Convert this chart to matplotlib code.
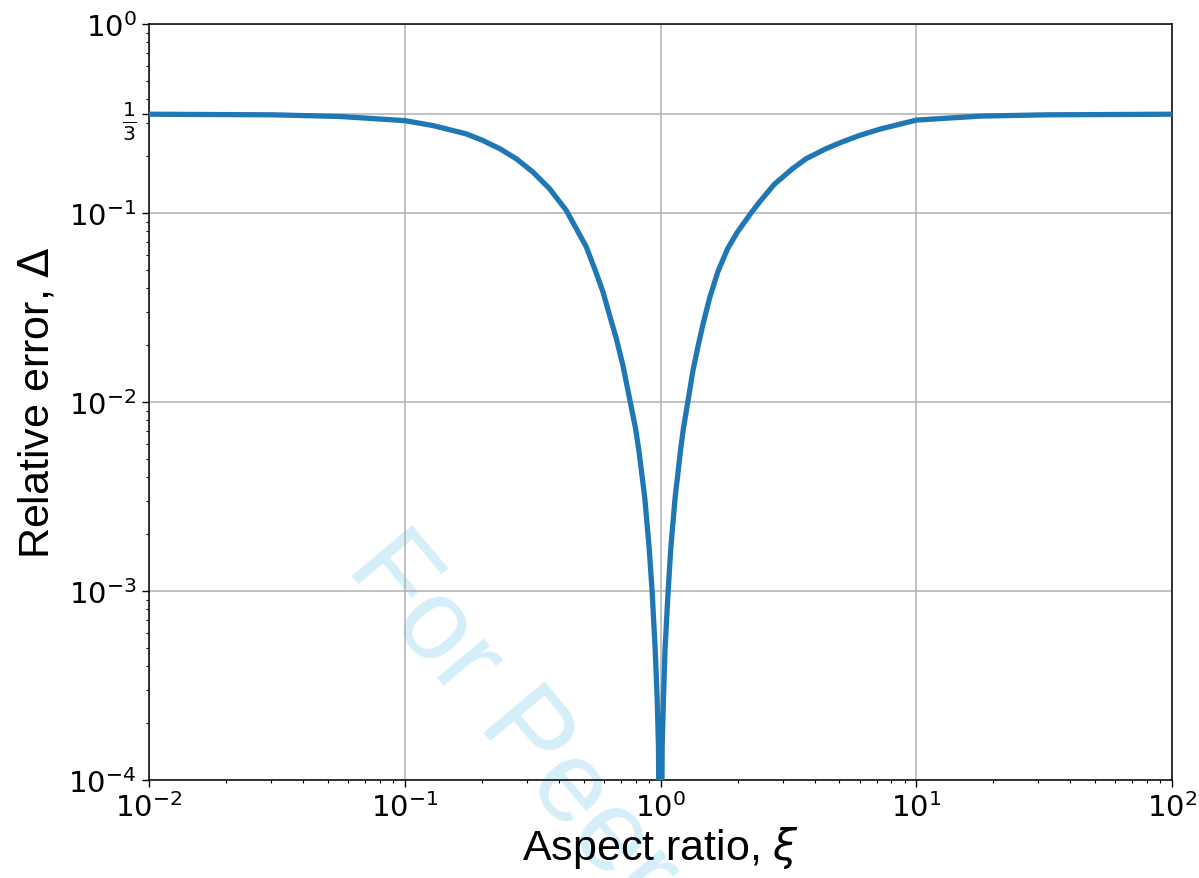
import matplotlib
matplotlib.use("Agg")
import matplotlib.pyplot as plt

# values (log-log), left and right branch of the dip
xi_left = [0.01, 0.0306, 0.0557, 0.1, 0.129, 0.174, 0.2023, 0.2148, 0.235, 0.273,
           0.317, 0.3684, 0.428, 0.4685, 0.5126, 0.5524, 0.5953, 0.632, 0.6713,
           0.7124, 0.7565, 0.7985, 0.825, 0.868, 0.9026, 0.927, 0.9526, 0.970,
           0.982, 1.0]
delta_left = [0.333, 0.3306, 0.324, 0.308, 0.290, 0.262, 0.2417, 0.232, 0.219, 0.1935,
              0.1646, 0.1343, 0.1032, 0.0826, 0.0661, 0.0508, 0.0383, 0.0288, 0.0217,
              0.01566, 0.01044, 0.00725, 0.0054, 0.0031, 0.00169, 0.001, 0.000499,
              0.000272, 0.000148, 1e-6]
xi_right = [1.0146, 1.027, 1.042, 1.071, 1.097, 1.140, 1.200, 1.229, 1.289, 1.337,
            1.399, 1.463, 1.554, 1.675, 1.83, 2.0, 2.26, 2.438, 2.788, 3.29, 3.707,
            4.44, 5.15, 5.99, 7.23, 10.0, 17.8, 32.4, 100.0]
delta_right = [0.000148, 0.000272, 0.000499, 0.001, 0.00169, 0.0031, 0.00569, 0.00725,
               0.0107, 0.0145, 0.0195, 0.0255, 0.0353, 0.0488, 0.0648, 0.0794, 0.1,
               0.1143, 0.142, 0.172, 0.1935, 0.219, 0.238, 0.257, 0.278, 0.31, 0.3254,
               0.3306, 0.333]

xi = xi_left + xi_right
delta = delta_left + delta_right

yticks = [1e-4, 1e-3, 1e-2, 1e-1, 1/3, 1.0]
ytick_labels = [r"$10^{-4}$", r"$10^{-3}$", r"$10^{-2}$", r"$10^{-1}$", r"$\frac{1}{3}$", r"$10^{0}$"]

plt.rcParams['mathtext.fontset'] = 'dejavusans'

fig = plt.figure(figsize=(11.99, 8.79), dpi=100)
fig.patch.set_facecolor("white")
ax = fig.add_axes([0.1243, 0.1115, 0.8532, 0.8601])
ax.set_facecolor("none")

ax.plot(xi, delta, color="#1f77b4", lw=3.8, solid_joinstyle="round", zorder=3)

ax.set_xscale("log")
ax.set_yscale("log")
ax.set_xlim(1e-2, 1e2)
ax.set_ylim(1e-4, 1.0)
ax.set_yticks(yticks)
ax.set_yticklabels(ytick_labels)

ax.grid(True, which="major", color="#b0b0b0", lw=1.1)
ax.tick_params(which="major", length=5, width=1.0, labelsize=21, pad=4)
ax.tick_params(which="minor", length=2.5, width=0.8)
for s in ax.spines.values():
    s.set_linewidth(1.1)

ax.set_xlabel(r"Aspect ratio, $\xi$", fontsize=31, family="Liberation Sans", labelpad=1)
ax.set_ylabel(r"Relative error, $\Delta$", fontsize=31, family="Liberation Sans", labelpad=8)

# watermark behind the axes
fig.text(0.2877, 0.3537, "For Peer Review", fontsize=83, color="#d4eefa",
         family="Liberation Sans", rotation=-50, rotation_mode="anchor",
         ha="left", va="baseline", zorder=-1)

fig.savefig("out.png", dpi=100, facecolor="white")
